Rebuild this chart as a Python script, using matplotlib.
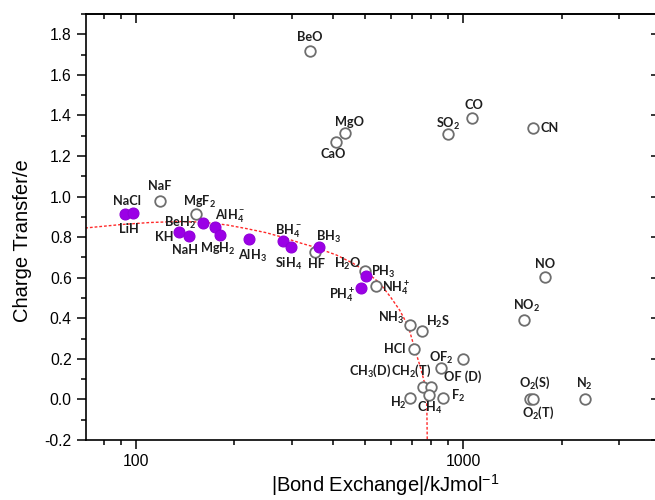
import matplotlib
matplotlib.use("Agg")
import matplotlib.pyplot as plt
from matplotlib.ticker import FixedLocator, NullFormatter, FixedFormatter, MultipleLocator

plt.rcParams['font.family'] = ['Liberation Sans', 'DejaVu Sans']

# ---------------- data ----------------
filled_names = ["NaCl", "LiH", "KH", "NaH", "BeH2", "AlH4-", "MgH2", "AlH3",
                "BH4-", "SiH4", "BH3", "PH3", "PH4+"]
filled_x = [92.5, 97.7, 135.6, 145.5, 159.9, 174.6, 180.9, 221.8,
            281.8, 298.8, 362.8, 506.0, 486.4]
filled_y = [0.915, 0.918, 0.823, 0.808, 0.872, 0.852, 0.810, 0.790,
            0.782, 0.749, 0.751, 0.606, 0.549]

open_names = ["NaF", "MgF2", "HF", "H2O", "NH4+", "NH3", "H2S", "HCl", "OF2",
              "OF (D)", "CH3(D)", "CH2(T)", "CH4", "H2", "F2", "BeO", "MgO",
              "CaO", "SO2", "CO", "CN", "NO", "NO2", "O2(S)", "O2(T)", "N2"]
open_x = [118.4, 153.2, 352.0, 500.0, 543.0, 686.5, 750.5, 706.3, 998.6,
          853.8, 754.0, 799.5, 784.7, 688.0, 867.9, 339.9, 434.7,
          410.1, 896.8, 1067.0, 1638.0, 1782.0, 1530.0, 1596.0, 1633.0, 2350.0]
open_y = [0.979, 0.913, 0.729, 0.631, 0.561, 0.365, 0.339, 0.249, 0.197,
          0.156, 0.0625, 0.0625, 0.021, 0.005, 0.005, 1.717, 1.315,
          1.271, 1.308, 1.386, 1.337, 0.604, 0.390, 0.0, 0.0, 0.0]

# red dotted trend curve
curve_x = [70, 90, 110, 135, 160, 190, 218, 250, 280, 320, 350, 410, 460,
           500, 556, 600, 640, 680, 710, 740, 760, 772, 775, 777]
curve_y = [0.845, 0.862, 0.872, 0.877, 0.874, 0.860, 0.842, 0.822, 0.800,
           0.770, 0.752, 0.712, 0.672, 0.635, 0.574, 0.505, 0.44, 0.36,
           0.255, 0.16, 0.09, 0.04, -0.05, -0.2]

x_major = [100, 1000]
x_major_labels = ["100", "1000"]
x_minor = [80, 90, 200, 300, 400, 500, 600, 700, 800, 900, 2000, 3000]
y_major = [-0.2, 0.0, 0.2, 0.4, 0.6, 0.8, 1.0, 1.2, 1.4, 1.6, 1.8]

# ---------------- layout ----------------
# label offsets in pixels (dx right, dy down)
offsets = {
    "NaCl": (2, -13), "LiH": (-4, 16), "KH": (-15, 5), "NaH": (-4, 14),
    "BeH2": (-23, 0), "AlH4-": (15, -10), "MgH2": (-2, 14), "AlH3": (3, 17),
    "BH4-": (5, -10), "SiH4": (-3, 16), "BH3": (10, -10), "PH3": (17, -5),
    "PH4+": (-19, 6),
    "NaF": (0, -15), "MgF2": (3, -12), "HF": (2, 12), "H2O": (-17, -7),
    "NH4+": (20, 2), "NH3": (-18, -7), "H2S": (16, -9), "HCl": (-19, 0),
    "OF2": (-22, -2), "OF (D)": (22, 9), "CH3(D)": (-53, -16),
    "CH2(T)": (-20, -16), "CH4": (1, 13), "H2": (-12, 5), "F2": (15, -2),
    "BeO": (0, -14), "MgO": (5, -11), "CaO": (-3, 12), "SO2": (1, -10),
    "CO": (2, -13), "CN": (16, 0), "NO": (0, -13), "NO2": (3, -14),
    "O2(S)": (5, -17), "O2(T)": (5, 13), "N2": (0, -15),
}

pretty = {
    "BeH2": r"BeH$\mathregular{_2}$", "AlH4-": r"AlH$\mathregular{_4^-}$",
    "MgH2": r"MgH$\mathregular{_2}$", "AlH3": r"AlH$\mathregular{_3}$",
    "BH4-": r"BH$\mathregular{_4^-}$", "SiH4": r"SiH$\mathregular{_4}$",
    "BH3": r"BH$\mathregular{_3}$", "PH3": r"PH$\mathregular{_3}$",
    "PH4+": r"PH$\mathregular{_4^+}$", "MgF2": r"MgF$\mathregular{_2}$",
    "H2O": r"H$\mathregular{_2}$O", "NH4+": r"NH$\mathregular{_4^+}$",
    "NH3": r"NH$\mathregular{_3}$", "H2S": r"H$\mathregular{_2}$S",
    "OF2": r"OF$\mathregular{_2}$", "CH3(D)": r"CH$\mathregular{_3}$(D)",
    "CH2(T)": r"CH$\mathregular{_2}$(T)", "CH4": r"CH$\mathregular{_4}$",
    "H2": r"H$\mathregular{_2}$", "F2": r"F$\mathregular{_2}$",
    "SO2": r"SO$\mathregular{_2}$", "NO2": r"NO$\mathregular{_2}$",
    "O2(S)": r"O$\mathregular{_2}$(S)", "O2(T)": r"O$\mathregular{_2}$(T)",
    "N2": r"N$\mathregular{_2}$",
}

W, H = 655, 500
fig = plt.figure(figsize=(W / 100, H / 100), dpi=100)
ax = fig.add_axes([86 / W, (H - 440) / H, (656.5 - 86) / W, (440 - 14) / H])

ax.set_xscale('log')
ax.set_xlim(70.4, 3900)
ax.set_ylim(-0.2, 1.9)

ax.plot(curve_x, curve_y, color='#ff2a2a', lw=1.0, ls=(0, (2.0, 1.4)), zorder=2)

ax.scatter(open_x, open_y, s=58, facecolor='white', edgecolor='#6e6e6e',
           linewidths=1.3, zorder=3)
ax.scatter(filled_x, filled_y, s=62, facecolor='#9b00e6', edgecolor='#9000d8',
           linewidths=0.8, zorder=4)

lab_font = dict(family=['Lato', 'DejaVu Sans'], weight='bold', size=9.2,
                color='#1e1e1e')
for names, xs, ys in ((filled_names, filled_x, filled_y),
                      (open_names, open_x, open_y)):
    for n, xv, yv in zip(names, xs, ys):
        dx, dy = offsets[n]
        ax.annotate(pretty.get(n, n), (xv, yv), xytext=(dx, -dy),
                    textcoords='offset pixels', ha='center', va='center',
                    zorder=5, **lab_font)

# ticks
ax.xaxis.set_major_locator(FixedLocator(x_major))
ax.xaxis.set_major_formatter(FixedFormatter(x_major_labels))
ax.xaxis.set_minor_locator(FixedLocator(x_minor))
ax.xaxis.set_minor_formatter(NullFormatter())
ax.yaxis.set_major_locator(FixedLocator(y_major))
ax.yaxis.set_minor_locator(MultipleLocator(0.1))
ax.set_yticklabels([f"{v:.1f}" for v in y_major])

ax.tick_params(which='both', direction='out', width=1.1, labelsize=11.3,
               top=False, right=False, color='black')
ax.tick_params(which='major', length=6.7, pad=3.5)
ax.tick_params(which='minor', length=3.9)

for s in ax.spines.values():
    s.set_linewidth(1.2)

# top axis: inward ticks, no labels
secx = ax.secondary_xaxis('top')
secx.xaxis.set_major_locator(FixedLocator(x_major))
secx.xaxis.set_minor_locator(FixedLocator(x_minor))
secx.xaxis.set_major_formatter(NullFormatter())
secx.xaxis.set_minor_formatter(NullFormatter())
secx.tick_params(which='both', direction='in', width=1.1)
secx.tick_params(which='major', length=6.5)
secx.tick_params(which='minor', length=3.8)
secx.spines['top'].set_linewidth(1.2)

# right axis: inward major ticks, no labels
secy = ax.secondary_yaxis('right')
secy.yaxis.set_major_locator(FixedLocator(y_major))
secy.yaxis.set_minor_locator(FixedLocator([]))
secy.yaxis.set_major_formatter(NullFormatter())
secy.tick_params(which='major', direction='in', length=4, width=1.1)
secy.spines['right'].set_linewidth(1.2)

ax.set_xlabel(r"|Bond Exchange|/kJmol$\mathregular{^{-1}}$", fontsize=14.5)
ax.xaxis.set_label_coords((385 - 86) / 570.5, -0.075)
ax.set_ylabel("Charge Transfer/e", fontsize=14.5)
ax.yaxis.set_label_coords((32 - 86) / 570.5, (440 - 241) / 426)

fig.savefig("out.png", dpi=100)
